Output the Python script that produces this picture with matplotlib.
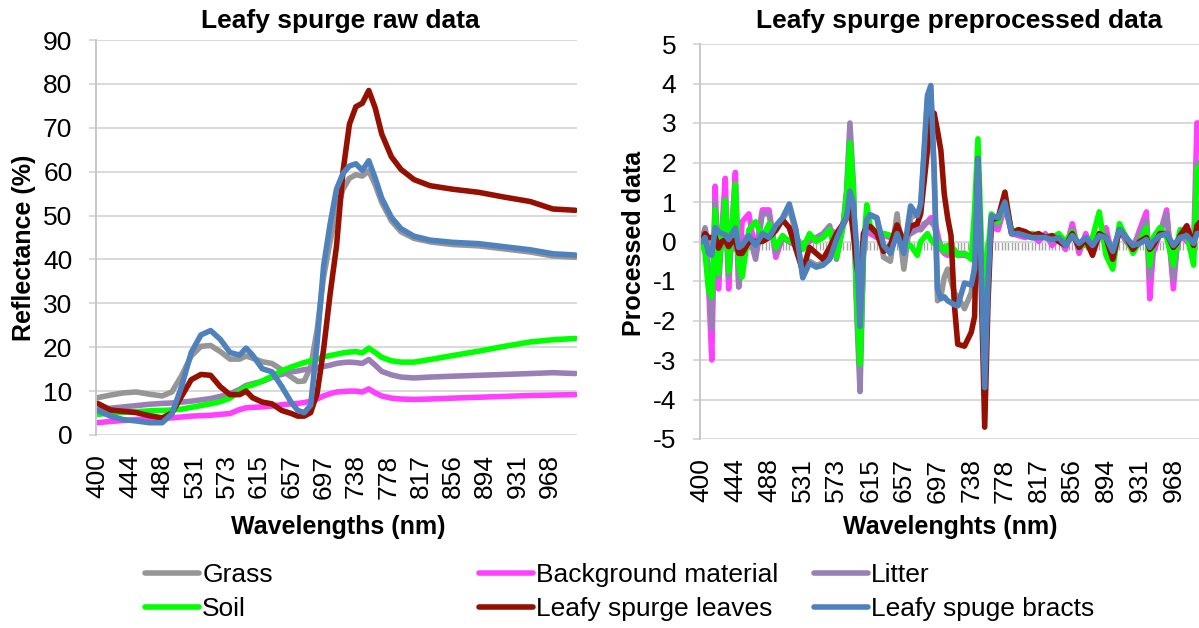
import matplotlib.pyplot as plt

plt.rcParams['font.family'] = ['Liberation Sans', 'DejaVu Sans']
plt.rcParams['axes.unicode_minus'] = False

# category axis: 149 spectral bands, every 10th band labelled
n_bands = 149
tick_bands = list(range(0, 141, 10))
tick_labels = ['400', '444', '488', '531', '573', '615', '657', '697',
               '738', '778', '817', '856', '894', '931', '968']

names = ['Grass', 'Background material', 'Litter', 'Soil',
         'Leafy spurge leaves', 'Leafy spuge bracts']
colors = ['#969696', '#FF40FF', '#9880B4', '#00FF00', '#951000', '#4F81BD']

# raw reflectance (%)
raw_bands = [0, 4, 8, 12, 16, 20, 23, 26, 29, 32, 35, 38, 41, 44, 46, 48, 51, 54, 57, 60, 62, 64,
             66, 68, 70, 72, 74, 76, 78, 80, 82, 84, 86, 88, 91, 94, 98, 103, 110, 118, 126, 134, 141, 148]
grass_raw = [8.5, 9.1, 9.6, 9.8, 9.3, 8.9, 9.8, 13.5, 18.0, 20.2, 20.4, 19.0, 17.3, 17.3, 18.0, 17.5, 16.7, 16.3,
             14.9, 13.2, 12.2, 12.3, 15.5, 24.0, 36.0, 44.0, 51.0, 56.0, 58.5, 59.3, 59.0, 60.2, 57.0, 53.0,
             48.8, 46.3, 44.8, 44.0, 43.4, 43.1, 42.4, 41.7, 40.8, 40.5]
background_raw = [2.8, 3.1, 3.3, 3.5, 3.7, 3.9, 3.9, 4.1, 4.3, 4.4, 4.5, 4.7, 4.9, 5.8, 6.2, 6.3, 6.4, 6.6,
                  6.9, 7.1, 7.2, 7.4, 7.7, 8.2, 8.9, 9.4, 9.8, 9.9, 10.0, 10.0, 9.8, 10.5, 9.6, 8.9,
                  8.4, 8.2, 8.1, 8.2, 8.4, 8.6, 8.8, 9.0, 9.1, 9.2]
litter_raw = [5.8, 6.1, 6.4, 6.7, 7.0, 7.2, 7.3, 7.5, 7.7, 8.0, 8.3, 8.8, 9.4, 10.4, 11.3, 11.7, 12.2, 13.1,
              13.8, 14.4, 14.6, 14.9, 15.1, 15.3, 15.6, 15.9, 16.3, 16.5, 16.6, 16.5, 16.3, 17.2, 15.9, 14.5,
              13.7, 13.2, 13.0, 13.2, 13.4, 13.6, 13.8, 14.0, 14.2, 14.0]
soil_raw = [4.7, 5.0, 5.2, 5.3, 5.5, 5.6, 5.7, 5.9, 6.3, 6.7, 7.1, 7.6, 8.4, 10.0, 11.0, 11.4, 12.3, 13.4,
            14.6, 15.5, 16.0, 16.5, 16.9, 17.3, 17.8, 18.1, 18.4, 18.7, 18.9, 19.0, 18.7, 19.8, 18.8, 17.7,
            16.9, 16.6, 16.6, 17.2, 18.1, 19.1, 20.2, 21.2, 21.7, 22.0]
leaves_raw = [7.2, 5.7, 5.4, 5.1, 4.4, 3.9, 5.0, 8.8, 12.6, 13.8, 13.6, 11.0, 9.2, 9.2, 10.0, 8.5, 7.5, 7.1,
              5.6, 4.9, 4.3, 4.3, 5.1, 9.5, 19.5, 32.0, 43.0, 60.0, 70.8, 74.8, 75.6, 78.5, 74.5, 68.6,
              63.4, 60.5, 58.2, 56.8, 56.0, 55.3, 54.2, 53.2, 51.5, 51.2]
bracts_raw = [5.6, 4.3, 3.5, 3.2, 2.8, 2.8, 4.8, 11.0, 18.8, 22.8, 23.8, 21.8, 18.8, 18.2, 19.8, 18.2, 15.1, 14.4,
              11.1, 7.4, 5.6, 5.1, 6.8, 21.0, 38.5, 48.0, 56.0, 59.6, 61.3, 61.8, 60.3, 62.5, 58.5, 54.0,
              49.6, 47.0, 45.3, 44.4, 43.9, 43.6, 42.9, 42.2, 41.3, 41.0]

# preprocessed spectra
pp_bands = [0, 1, 2, 3, 4, 5, 6, 7, 8, 9, 10, 11, 12,
            14, 16, 18, 20, 22, 24, 26, 28, 30, 32, 34, 36, 38, 40,
            42, 43, 44, 45, 46, 47, 48, 49, 50,
            52, 54, 56, 58, 60, 62, 64,
            65, 66, 67, 68, 69, 70, 71, 72, 73, 74, 75, 76,
            78, 80, 81, 82, 83, 84, 85, 86,
            88, 90, 92, 94, 96, 98, 100, 102, 104, 106, 108, 110, 112, 114, 116, 118, 120, 122, 124, 126, 128, 130, 132,
            133, 134, 136, 138, 140, 141, 142, 144, 146, 147, 148]
grass_pp = [0, 0.35, -0.1, -0.3, 0.3, 0.1, 0.2, -0.1, 0.1, 0.3, -0.2, 0.0, 0.1,
            0.1, -0.2, 0.2, 0.15, 0.35, 0.55, 0.85, 0.2, -0.85, -0.5, -0.6, -0.55, -0.4, 0.05,
            0.4, 0.6, 1.2, 0.8, -0.8, -2.2, -0.2, 0.6, 0.65,
            0.6, -0.4, -0.5, 0.7, -0.7, 0.6, 0.7,
            0.8, 2.2, 3.6, 3.85, 1.7, -1.5, -1.4, -0.9, -0.7, -1.0, -1.3, -1.4,
            -1.7, -1.3, -0.6, 2.0, -0.8, -3.5, -1.0, 0.6,
            0.5, 0.9, 0.3, 0.2, 0.15, 0.1, 0.1, 0.15, 0.0, 0.1, -0.1, 0.15, -0.1, 0.1, -0.15, 0.2, 0.15, -0.25, 0.3, 0.1, -0.1, 0.0, 0.1,
            -0.3, 0.0, 0.15, 0.2, -0.1, 0.0, 0.1, 0.05, -0.1, 0.8, 1.0]
background_pp = [0, 0.1, -1.0, -3.0, 1.4, -1.2, 0.3, 1.6, -1.2, 0.4, 1.75, -1.15, 0.5,
                 0.7, -0.3, 0.8, 0.8, -0.4, 0.1, 0.0, -0.1, -0.1, 0.0, 0.1, 0.1, 0.3, 0.2,
                 0.45, 1.1, 2.3, 1.2, -1.5, -3.3, -0.3, 0.4, 0.2,
                 0.1, 0.15, 0.1, 0.05, 0.1, 0.2, 0.4,
                 0.3, 0.4, 0.5, 0.6, 0.6, 0.2, -0.2, -0.3, -0.35, -0.3, -0.3, -0.35,
                 -0.35, -0.4, 0.0, 1.5, -0.5, -2.2, -0.5, 0.35,
                 0.3, 0.9, 0.2, 0.15, 0.1, 0.2, 0.0, 0.2, -0.1, 0.1, -0.2, 0.45, -0.3, 0.2, -0.2, 0.1, 0.35, -0.4, 0.3, 0.0, -0.2, 0.3, 0.75,
                 -1.45, -0.3, 0.2, 0.8, -1.2, -0.2, 0.2, 0.0, -0.2, 3.0, 3.0]
litter_pp = [0, 0.3, -0.9, -2.2, 1.0, -0.9, 0.2, 0.8, -0.9, 0.3, 1.2, -1.15, -0.4,
             0.2, -0.45, 0.7, 0.7, -0.3, 0.1, 0.0, -0.1, -0.05, 0.05, 0.1, 0.2, 0.4, -0.45,
             0.4, 1.3, 3.0, 1.5, -1.8, -3.8, -0.4, 0.6, 0.3,
             0.15, 0.2, 0.15, 0.1, 0.1, 0.2, 0.3,
             0.3, 0.45, 0.5, 0.5, 0.4, 0.1, -0.1, -0.2, -0.3, -0.3, -0.3, -0.3,
             -0.3, -0.4, 0.0, 1.5, -0.3, -1.5, -0.4, 0.5,
             0.4, 1.0, 0.2, 0.2, 0.15, 0.1, 0.1, 0.15, 0.0, 0.1, -0.1, 0.3, -0.2, 0.1, -0.1, 0.15, 0.2, -0.3, 0.3, 0.0, -0.1, 0.2, 0.55,
             -0.9, -0.2, 0.2, 0.7, -0.95, -0.2, 0.2, 0.1, -0.4, 2.0, 2.0]
soil_pp = [0, -0.3, -1.2, -1.4, 0.8, -0.8, 0.2, 1.05, -0.75, 0.4, 1.45, -0.6, -0.9,
           0.3, 0.5, 0.1, 0.45, -0.15, 0.15, 0.0, 0.15, -0.2, 0.2, 0.0, 0.1, 0.3, -0.4,
           0.4, 1.2, 2.5, 1.4, -1.5, -3.1, -0.2, 0.93, 0.4,
           0.2, 0.2, 0.15, 0.1, -0.1, -0.1, -0.35,
           0.0, 0.1, 0.2, 0.05, -0.05, 0.0, -0.15, -0.25, -0.1, -0.3, -0.2, -0.35,
           -0.3, -0.45, 0.8, 2.6, 0.0, -1.2, -0.2, 0.7,
           0.5, 1.1, 0.25, 0.3, 0.2, 0.2, 0.15, 0.1, 0.1, 0.2, 0.0, 0.25, -0.1, -0.1, 0.1, 0.75, -0.35, -0.7, 0.45, 0.1, -0.3, 0.0, 0.35,
           -0.6, 0.1, 0.35, 0.1, -0.6, -0.1, 0.3, 0.2, -0.6, 1.85, 1.9]
leaves_pp = [0, 0.2, 0.1, 0.1, 0.13, -0.17, 0.0, 0.04, -0.13, 0.0, 0.04, -0.3, -0.3,
             0.0, 0.0, 0.0, 0.1, 0.28, 0.55, 0.35, -0.2, -0.75, -0.15, -0.3, -0.45, -0.15, 0.2,
             0.45, 0.6, 0.89, 0.21, -0.6, -1.2, 0.2, 0.38, 0.38,
             0.2, -0.25, -0.1, 0.42, 0.0, 0.38, 0.45,
             0.7, 1.5, 2.3, 3.15, 3.25, 2.8, 2.3, 1.2, 0.6, 0.15, -1.6, -2.6,
             -2.65, -2.3, -1.9, 2.1, -1.2, -4.7, -1.5, 0.55,
             0.6, 1.25, 0.2, 0.3, 0.25, 0.15, 0.2, 0.1, 0.15, 0.0, -0.1, 0.2, -0.15, 0.05, -0.35, 0.2, 0.1, -0.45, 0.3, 0.1, -0.2, 0.0, 0.1,
             -0.2, -0.1, 0.2, 0.2, -0.15, -0.05, 0.15, 0.4, -0.1, 0.4, 0.5]
bracts_pp = [0, 0.1, -0.3, -0.35, 0.35, 0.25, 0.2, 0.17, 0.05, 0.2, 0.34, -0.15, -0.1,
             0.15, -0.1, 0.2, 0.1, 0.4, 0.6, 0.95, 0.3, -0.92, -0.55, -0.65, -0.6, -0.45, 0.05,
             0.45, 0.6, 1.27, 0.97, -0.13, -2.15, -0.13, 0.55, 0.68,
             0.6, -0.1, -0.3, 0.2, -0.3, 0.9, 0.65,
             0.95, 2.3, 3.7, 3.95, 1.8, -1.2, -1.45, -1.4, -1.5, -1.55, -1.6, -1.63,
             -1.05, -1.1, -0.7, 2.1, -0.8, -3.7, -1.0, 0.65,
             0.6, 1.0, 0.2, 0.2, 0.15, 0.1, 0.1, 0.1, 0.05, 0.1, -0.1, 0.15, -0.05, 0.1, -0.1, 0.15, 0.1, -0.25, 0.3, 0.1, -0.1, -0.05, 0.05,
             -0.15, 0.0, 0.15, 0.2, -0.1, 0.0, 0.1, 0.15, -0.05, 0.2, 0.2]

raw_series = [grass_raw, background_raw, litter_raw, soil_raw, leaves_raw, bracts_raw]
pp_series = [grass_pp, background_pp, litter_pp, soil_pp, leaves_pp, bracts_pp]

W, H = 1199, 628
fig = plt.figure(figsize=(W / 100, H / 100), dpi=100)
ax1 = fig.add_axes([96 / W, 1 - 435 / H, 481 / W, 395 / H])
ax2 = fig.add_axes([700 / W, 1 - 439 / H, 502 / W, 395 / H])

grid_col = '#D9D9D9'
line_w = 4.0


def style_axes(ax, ymin, ymax, ystep):
    ax.set_xlim(-0.5, n_bands - 0.5)
    ax.set_ylim(ymin, ymax)
    ax.set_yticks(range(ymin, ymax + 1, ystep))
    ax.set_xticks(tick_bands)
    ax.set_xticklabels(tick_labels, rotation=90)
    ax.grid(axis='y', color=grid_col, lw=1.4)
    ax.set_axisbelow(True)
    for s in ['top', 'right', 'bottom']:
        ax.spines[s].set_visible(False)
    ax.spines['left'].set_color('#C8C8C8')
    ax.spines['left'].set_linewidth(1.4)
    ax.tick_params(axis='y', length=5, width=1.4, color=grid_col, pad=12, labelsize=19)
    ax.tick_params(axis='x', length=0, pad=14, labelsize=19)


style_axes(ax1, 0, 90, 10)
style_axes(ax2, -5, 5, 1)

# category axis crossing at zero on the processed panel
zero_axis = ax2.secondary_xaxis(0.5)
zero_axis.set_alignment('bottom')
zero_axis.set_xticks(range(n_bands))
zero_axis.tick_params(length=6, width=1, color='#A6A6A6', labelbottom=False)
zero_axis.spines['bottom'].set_color('#A6A6A6')
zero_axis.spines['bottom'].set_linewidth(1.4)

handles = []
for vals, name, col in zip(raw_series, names, colors):
    line, = ax1.plot(raw_bands, vals, color=col, lw=line_w, label=name,
                     solid_joinstyle='round', solid_capstyle='round')
    handles.append(line)
for vals, col in zip(pp_series, colors):
    ax2.plot(pp_bands, vals, color=col, lw=line_w,
             solid_joinstyle='round', solid_capstyle='round')

title_kw = dict(fontsize=19, fontweight='bold', ha='center', va='center')
label_kw = dict(fontsize=18, fontweight='bold', ha='center', va='center')
fig.text(340 / W, 1 - 21 / H, 'Leafy spurge raw data', **title_kw)
fig.text(959 / W, 1 - 21 / H, 'Leafy spurge preprocessed data', **title_kw)
fig.text(338 / W, 1 - 527 / H, 'Wavelengths (nm)', **label_kw)
fig.text(950 / W, 1 - 527 / H, 'Wavelenghts (nm)', **label_kw)
fig.text(24 / W, 1 - 248 / H, 'Reflectance (%)', rotation=90, **label_kw)
fig.text(634 / W, 1 - 243 / H, 'Processed data', rotation=90, **label_kw)

# three legend columns, two entries each
for k, x in enumerate([145, 479, 814]):
    fig.legend(handles=[handles[k], handles[k + 3]], loc='upper left',
               bbox_to_anchor=(x / W, 1 - 563 / H), frameon=False, fontsize=19,
               handlelength=2.05, handletextpad=0.12, labelspacing=0.38,
               borderpad=0, borderaxespad=0)

fig.savefig('out.png', dpi=100)
